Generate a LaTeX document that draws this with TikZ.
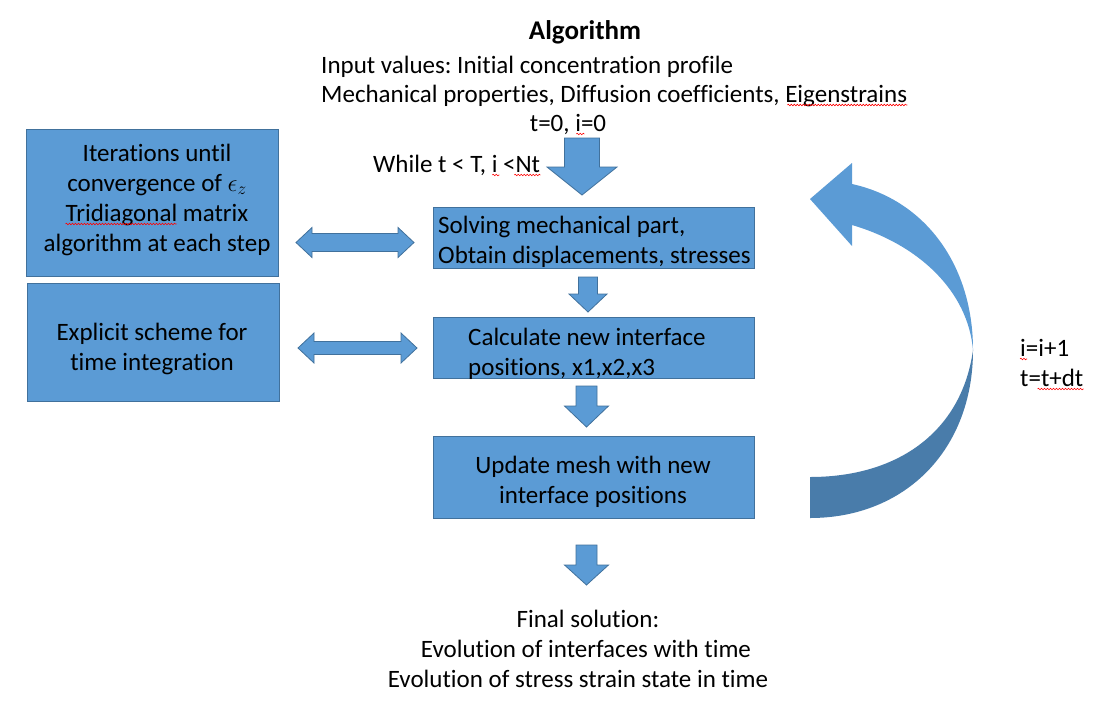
\documentclass[tikz,border=0pt]{standalone}
\usepackage{fontspec}
\setmainfont{Carlito}[Ligatures={NoCommon}]
\frenchspacing
\usetikzlibrary{calc,decorations.pathmorphing}
\definecolor{fillblue}{HTML}{5B9BD5}
\definecolor{edgeblue}{HTML}{41719C}
\definecolor{darkblue}{HTML}{497CAA}
\tikzset{
  txt/.style={font=\fontsize{25}{30}\selectfont, inner sep=0pt, text=black},
  boxstyle/.style={draw=edgeblue, fill=fillblue, line width=1pt, inner sep=0pt},
  arrowstyle/.style={draw=edgeblue, fill=fillblue, line width=0.8pt, line join=miter},
  squig/.style={draw=red, line width=0.6pt, decorate, decoration={snake, amplitude=0.8pt, segment length=3pt}},
}
% #1 centre x, #2 top y, #3 shaft half width, #4 head start y, #5 head half width, #6 tip y
\newcommand\blockdown[6]{%
  \filldraw[arrowstyle] ({#1-#3},#2) -- ({#1+#3},#2) -- ({#1+#3},#4) -- ({#1+#5},#4)
    -- (#1,#6) -- ({#1-#5},#4) -- ({#1-#3},#4) -- cycle;}
% #1 left x, #2 right x, #3 centre y, #4 shaft half, #5 head half, #6 head depth
\newcommand\blockdouble[6]{%
  \filldraw[arrowstyle] (#1,#3) -- ({#1+#6},{#3-#5}) -- ({#1+#6},{#3-#4}) -- ({#2-#6},{#3-#4})
    -- ({#2-#6},{#3-#5}) -- (#2,#3) -- ({#2-#6},{#3+#5}) -- ({#2-#6},{#3+#4})
    -- ({#1+#6},{#3+#4}) -- ({#1+#6},{#3+#5}) -- cycle;}
\begin{document}
\begin{tikzpicture}[x=1pt,y=-1pt]
\fill[white] (0,0) rectangle (1102,705);
\useasboundingbox (0,0) rectangle (1102,705);

% header
\node[txt, font=\fontsize{27}{30}\selectfont\bfseries, anchor=base] (title) at (585,39) {Algorithm};
\node[txt, anchor=base west] (in1) at (321,73) {Input values: Initial concentration profile};
\node[txt, anchor=base west] (in2) at (321,102) {Mechanical properties, Diffusion coefficients, Eigenstrains};
\node[txt, anchor=base] (in3) at (568,131) {t=0, i=0};
\node[txt, anchor=base west] (while) at (373,172) {While t < T, i <Nt};

% central boxes
\node[boxstyle, minimum width=321pt, minimum height=61pt] (b1) at (593.5,237.5) {};
\node[txt, anchor=base west] (b1a) at (438,233) {Solving mechanical part,};
\node[txt, anchor=base west] (b1b) at (438,263) {Obtain displacements, stresses};

\node[boxstyle, minimum width=321pt, minimum height=61pt] (b2) at (593.5,347.5) {};
\node[txt, anchor=base west] (b2a) at (468,345) {Calculate new interface};
\node[txt, anchor=base west] (b2b) at (468,375) {positions, x1,x2,x3};

\node[boxstyle, minimum width=321pt, minimum height=82pt] (b3) at (593.5,477) {};
\node[txt, anchor=base] (b3a) at (593,473) {Update mesh with new};
\node[txt, anchor=base] (b3b) at (593,503) {interface positions};

% left boxes
\node[boxstyle, minimum width=252pt, minimum height=147pt] (l1) at (152,202.5) {};
\node[txt, anchor=base] (l1a) at (157,161) {Iterations until};
\node[txt, anchor=base] (l1b) at (157,191) {convergence of $\epsilon_z$};
\node[txt, anchor=base] (l1c) at (157,221) {Tridiagonal matrix};
\node[txt, anchor=base] (l1d) at (157,251) {algorithm at each step};

\node[boxstyle, minimum width=252pt, minimum height=118pt] (l2) at (153,342) {};
\node[txt, anchor=base] (l2a) at (152,340) {Explicit scheme for};
\node[txt, anchor=base] (l2b) at (152,370) {time integration};

% final text
\node[txt, anchor=base] (f1) at (588,627) {Final solution:};
\node[txt, anchor=base] (f2) at (586,657) {Evolution of interfaces with time};
\node[txt, anchor=base] (f3) at (578,687) {Evolution of stress strain state in time};

% loop text
\node[txt, anchor=base west] (r1) at (1020,356) {i=i+1};
\node[txt, anchor=base west] (r2) at (1020,386) {t=t+dt};

% block arrows
\blockdown{582}{138}{17.5}{167}{35}{195}
\blockdown{588}{277}{9.5}{294}{19}{312}
\blockdown{586.5}{386}{10.5}{406}{22}{427}
\blockdown{586.5}{545}{10.5}{565}{22}{585}
\blockdouble{296}{414}{242.5}{9}{15}{16}
\blockdouble{298}{417}{348}{6.5}{15}{16}

% curved return arrow
\fill[darkblue] (973,350) .. controls (973,450) and (905,518) .. (810,518)
  -- (810,477) .. controls (900,477) and (962,430) .. (973,350) -- cycle;
\fill[fillblue] (852,184) .. controls (925,200) and (973,265) .. (973,350)
  .. controls (968,292) and (920,245) .. (852,225) -- (852,246) -- (810,199)
  -- (852,163) -- cycle;

% spell-check marks
\draw[squig] ($(in2.base east)+(-120,3)$) -- ($(in2.base east)+(0,3)$);
\draw[squig] ($(in3.base east)+(-30,3)$) -- ($(in3.base east)+(-22,3)$);
\draw[squig] ($(while.base east)+(-48,3)$) -- ($(while.base east)+(-41,3)$);
\draw[squig] ($(while.base east)+(-26,3)$) -- ($(while.base east)+(0,3)$);
\draw[squig] ($(l1c.base west)+(0,3)$) -- ($(l1c.base west)+(111,3)$);
\draw[squig] ($(r1.base west)+(0,3)$) -- ($(r1.base west)+(7,3)$);
\draw[squig] ($(r2.base east)+(-46,3)$) -- ($(r2.base east)+(0,3)$);
\end{tikzpicture}
\end{document}
